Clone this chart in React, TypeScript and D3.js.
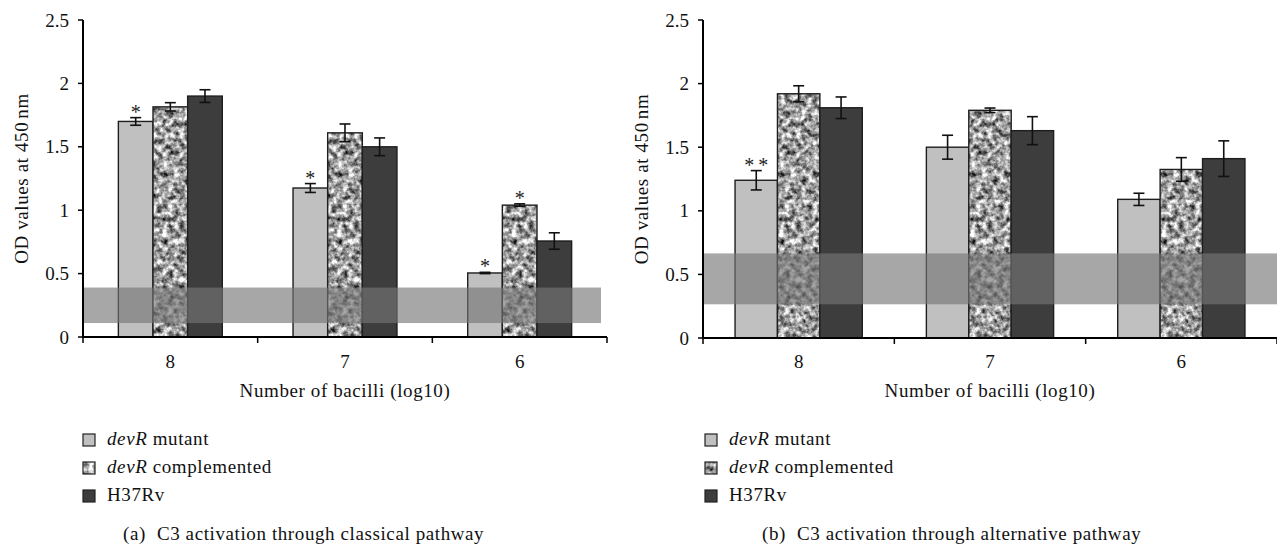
import React from "react";
import * as d3 from "d3";

const categories = ["8", "7", "6"];
const seriesKeys = ["mutant", "complemented", "h37rv"];

// Panel (a): classical pathway
const classicalMutant = [1.70, 1.175, 0.505];
const classicalComplemented = [1.815, 1.61, 1.04];
const classicalH37Rv = [1.90, 1.50, 0.757];
const classicalMutantErr = [0.03, 0.035, 0.005];
const classicalComplementedErr = [0.033, 0.07, 0.01];
const classicalH37RvErr = [0.05, 0.07, 0.065];
const classicalMutantSig = ["*", "*", "*"];
const classicalComplementedSig = ["", "", "*"];
const classicalH37RvSig = ["", "", ""];
const classicalBand = [0.11, 0.39];

// Panel (b): alternative pathway
const alternativeMutant = [1.24, 1.50, 1.09];
const alternativeComplemented = [1.92, 1.79, 1.325];
const alternativeH37Rv = [1.81, 1.63, 1.41];
const alternativeMutantErr = [0.076, 0.094, 0.048];
const alternativeComplementedErr = [0.063, 0.018, 0.093];
const alternativeH37RvErr = [0.085, 0.11, 0.14];
const alternativeMutantSig = ["**", "", ""];
const alternativeComplementedSig = ["", "", ""];
const alternativeH37RvSig = ["", "", ""];
const alternativeBand = [0.265, 0.665];

const yTicks = [0, 0.5, 1, 1.5, 2, 2.5];
const xAxisTitle = "Number of bacilli (log10)";
const yAxisTitle = "OD values at 450";
const yAxisUnit = "nm";

const FONT = "'Liberation Serif', 'Times New Roman', serif";
const FS = 19;
const LS = 0.6;

const fills: Record<string, string> = {
  mutant: "#c0c0c0",
  complemented: "#a0a0a0",
  h37rv: "#3d3d3d",
};

type PanelProps = {
  id: string;
  xRange: [number, number];
  yBase: number;
  pad: number;
  values: number[][];
  errors: number[][];
  sigs: string[][];
  band: number[];
  bandEnd: number;
  legendX: number;
  captionX: number;
  captionLabel: string;
  captionText: string;
};

function Panel(props: PanelProps) {
  const { xRange, yBase, pad, values, errors, sigs, band, bandEnd, legendX, captionX, captionLabel, captionText } = props;
  const x0 = d3.scaleBand<string>().domain(categories).range(xRange).paddingInner(pad).paddingOuter(pad / 2);
  const x1 = d3.scaleBand<string>().domain(seriesKeys).range([0, x0.bandwidth()]);
  const y = d3.scaleLinear().domain([0, 2.5]).range([yBase, 20]);
  const step = x0.step();
  const axisX = xRange[0];
  const boundaries = d3.range(categories.length + 1).map((i) => xRange[0] + i * step);
  const capW = 11;

  const legendRows = [
    { key: "mutant", italic: "devR", rest: " mutant" },
    { key: "complemented", italic: "devR", rest: " complemented" },
    { key: "h37rv", italic: "", rest: "H37Rv" },
  ];

  return (
    <g fontFamily={FONT} fontSize={FS} fill="#111">
      {/* bars */}
      {categories.map((c, ci) => (
        <g key={c} transform={`translate(${x0(c)},0)`}>
          {seriesKeys.map((s, si) => {
            const v = values[si][ci];
            const bx = x1(s) as number;
            const bw = x1.bandwidth();
            return (
              <g key={s}>
                <rect x={bx} y={y(v)} width={bw} height={y(0) - y(v)} fill={fills[s]}
                  filter={s === "complemented" ? "url(#mottle)" : undefined} />
                <rect x={bx} y={y(v)} width={bw} height={y(0) - y(v)} fill="none" stroke="#1e1e1e" strokeWidth={1.4} />
              </g>
            );
          })}
        </g>
      ))}
      {/* error bars */}
      {categories.map((c, ci) => (
        <g key={"e" + c} transform={`translate(${x0(c)},0)`}>
          {seriesKeys.map((s, si) => {
            const v = values[si][ci];
            const e = errors[si][ci];
            const cx = (x1(s) as number) + x1.bandwidth() / 2;
            return (
              <g key={s} stroke="#111" strokeWidth={1.6}>
                <line x1={cx} x2={cx} y1={y(v + e)} y2={y(v - e)} />
                <line x1={cx - capW / 2} x2={cx + capW / 2} y1={y(v + e)} y2={y(v + e)} />
                <line x1={cx - capW / 2} x2={cx + capW / 2} y1={y(v - e)} y2={y(v - e)} />
              </g>
            );
          })}
        </g>
      ))}
      {/* significance marks */}
      {categories.map((c, ci) => (
        <g key={"s" + c} transform={`translate(${x0(c)},0)`}>
          {seriesKeys.map((s, si) => {
            const mark = sigs[si][ci];
            if (!mark) return null;
            const v = values[si][ci];
            const e = errors[si][ci];
            const cx = (x1(s) as number) + x1.bandwidth() / 2;
            return (
              <text key={s} x={cx} y={y(v + e) + 1} textAnchor="middle" fill="#222" fontSize={20}
                letterSpacing={mark.length > 1 ? 4 : 0} dx={mark.length > 1 ? 2 : 0}>
                {mark}
              </text>
            );
          })}
        </g>
      ))}
      {/* reference band */}
      <rect x={axisX} y={y(band[1])} width={bandEnd - axisX} height={y(band[0]) - y(band[1])}
        fill="rgb(118,118,118)" fillOpacity={0.64} />
      {/* y axis */}
      <line x1={axisX} x2={axisX} y1={y(2.5)} y2={y(0) + 1} stroke="#000" strokeWidth={2} />
      {yTicks.map((t) => (
        <g key={t}>
          <line x1={axisX - 5} x2={axisX} y1={y(t)} y2={y(t)} stroke="#000" strokeWidth={1.5} />
          <text x={axisX - 14} y={y(t)} dy="0.35em" textAnchor="end">{String(t)}</text>
        </g>
      ))}
      <text transform={`translate(${axisX - 55},${(y(0) + y(2.5)) / 2}) rotate(-90)`} textAnchor="middle" letterSpacing={LS}>
        {yAxisTitle}
        <tspan dx={3}>{yAxisUnit}</tspan>
      </text>
      {/* x axis */}
      <line x1={axisX - 1} x2={xRange[1]} y1={y(0)} y2={y(0)} stroke="#000" strokeWidth={2} />
      {boundaries.map((b, i) => (
        <line key={i} x1={b} x2={b} y1={y(0)} y2={y(0) + 6} stroke="#000" strokeWidth={1.5} />
      ))}
      {categories.map((c) => (
        <text key={"t" + c} x={(x0(c) as number) + x0.bandwidth() / 2} y={368} textAnchor="middle">{c}</text>
      ))}
      <text x={(xRange[0] + xRange[1]) / 2} y={397} textAnchor="middle" letterSpacing={LS}>{xAxisTitle}</text>
      {/* legend */}
      {legendRows.map((r, i) => (
        <g key={r.key}>
          <rect x={legendX} y={434 + i * 28} width={12} height={12} fill={fills[r.key]}
            filter={r.key === "complemented" ? "url(#mottle)" : undefined} />
          <rect x={legendX} y={434 + i * 28} width={12} height={12} fill="none" stroke="#222" strokeWidth={1.2} />
          <text x={legendX + 24} y={445 + i * 28} letterSpacing={LS}>
            {r.italic ? <tspan fontStyle="italic">{r.italic}</tspan> : null}
            {r.rest}
          </text>
        </g>
      ))}
      {/* caption */}
      <text x={captionX} y={540} letterSpacing={LS}>
        {captionLabel}
        <tspan dx={11}>{captionText}</tspan>
      </text>
    </g>
  );
}

export default function App() {
  return (
    <svg width={1277} height={548} style={{ position: "absolute", left: 0, top: 0, background: "#fff" }}>
      <defs>
        <filter id="mottle" x="0" y="0" width="1" height="1" colorInterpolationFilters="sRGB">
          <feTurbulence type="fractalNoise" baseFrequency="0.18" numOctaves="3" seed="7" result="n" />
          <feColorMatrix in="n" type="matrix"
            values="1.6 0 0 0 -0.18  1.6 0 0 0 -0.18  1.6 0 0 0 -0.18  0 0 0 0 1" result="g" />
          <feComposite in="g" in2="SourceGraphic" operator="in" />
        </filter>
      </defs>
      <rect width={1277} height={548} fill="#fff" />
      <Panel
        id="a"
        xRange={[83, 607]}
        yBase={337}
        pad={0.405}
        values={[classicalMutant, classicalComplemented, classicalH37Rv]}
        errors={[classicalMutantErr, classicalComplementedErr, classicalH37RvErr]}
        sigs={[classicalMutantSig, classicalComplementedSig, classicalH37RvSig]}
        band={classicalBand}
        bandEnd={601}
        legendX={83}
        captionX={123}
        captionLabel="(a)"
        captionText="C3 activation through classical pathway"
      />
      <Panel
        id="b"
        xRange={[703, 1277]}
        yBase={338}
        pad={0.335}
        values={[alternativeMutant, alternativeComplemented, alternativeH37Rv]}
        errors={[alternativeMutantErr, alternativeComplementedErr, alternativeH37RvErr]}
        sigs={[alternativeMutantSig, alternativeComplementedSig, alternativeH37RvSig]}
        band={alternativeBand}
        bandEnd={1277}
        legendX={705}
        captionX={762}
        captionLabel="(b)"
        captionText="C3 activation through alternative pathway"
      />
    </svg>
  );
}
